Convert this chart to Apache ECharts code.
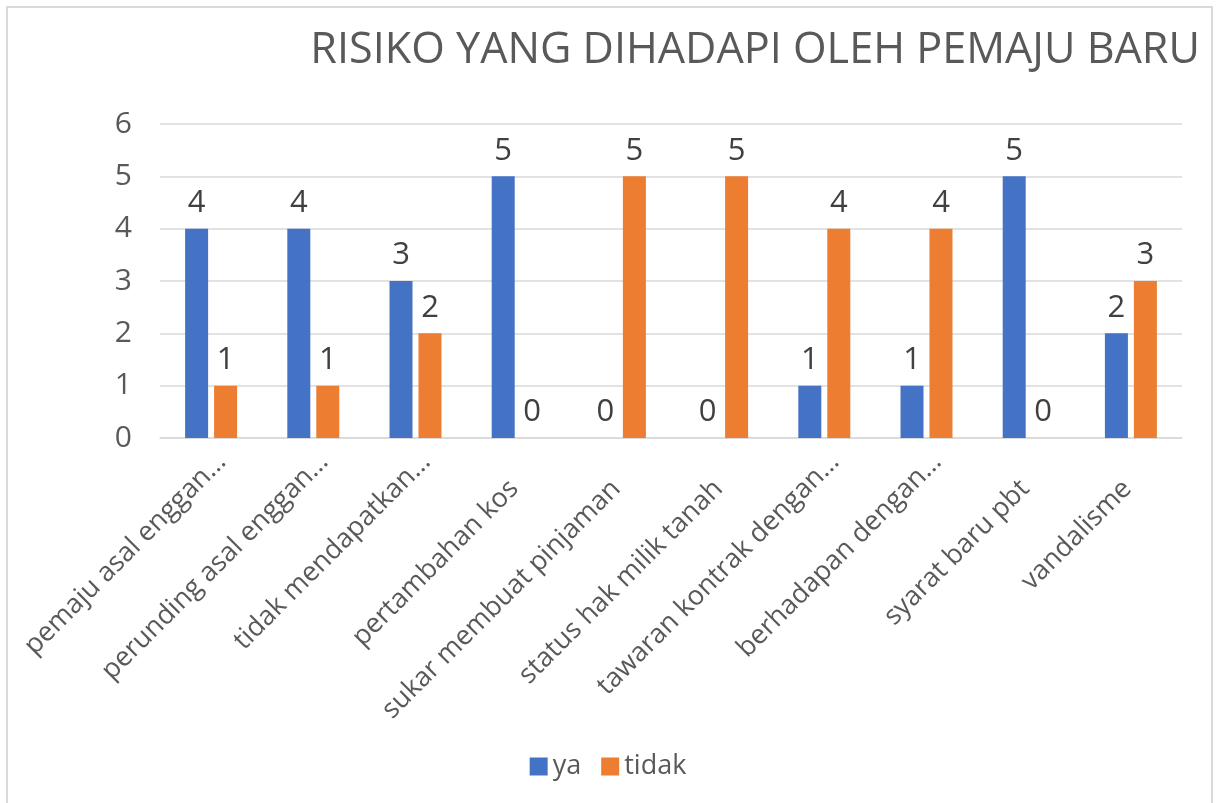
<!DOCTYPE html>
<html>
<head>
<meta charset="utf-8">
<script src="https://cdn.jsdelivr.net/npm/echarts@6/dist/echarts.min.js"></script>
<style>
  html, body { margin: 0; padding: 0; background: #fff; }
  #chart { width: 1216px; height: 803px; }
</style>
</head>
<body>
<div id="chart"></div>
<script>
// kategori risiko (label dipotong seperti dalam Excel)
var categories = [
    'pemaju asal enggan…',
    'perunding asal enggan…',
    'tidak mendapatkan…',
    'pertambahan kos',
    'sukar membuat pinjaman',
    'status hak milik tanah',
    'tawaran kontrak dengan…',
    'berhadapan dengan…',
    'syarat baru pbt',
    'vandalisme'
];
var yaValues = [4, 4, 3, 5, 0, 0, 1, 1, 5, 2];
var tidakValues = [1, 1, 2, 0, 5, 5, 4, 4, 0, 3];
var yTicks = [0, 1, 2, 3, 4, 5, 6];

var textFont = '"Open Sans", "Noto Sans", sans-serif';

var barLabel = {
    show: true,
    position: 'top',
    distance: 10,
    fontSize: 31,
    fontFamily: textFont,
    color: '#404040'
};

var catText = { fontSize: 27, fontFamily: textFont, color: '#595959' };

var option = {
    backgroundColor: '#ffffff',
    color: ['#4472C4', '#ED7D31'],
    animation: false,
    graphic: [{
        type: 'rect',
        shape: { x: 7, y: 7, width: 1205, height: 820 },
        style: { fill: 'none', stroke: '#d9d9d9', lineWidth: 2 },
        silent: true
    }],
    title: {
        text: 'RISIKO YANG DIHADAPI OLEH PEMAJU BARU',
        right: 11,
        top: 24,
        textStyle: {
            fontFamily: textFont,
            fontWeight: 'normal',
            fontSize: 43.2,
            color: '#595959'
        }
    },
    legend: {
        data: ['ya', 'tidak'],
        bottom: 18,
        left: 'center',
        itemWidth: 18,
        itemHeight: 18,
        itemGap: 20,
        icon: 'rect',
        textStyle: {
            fontSize: 27,
            fontFamily: textFont,
            color: '#595959'
        }
    },
    grid: {
        left: 160,
        right: 34,
        top: 124,
        bottom: 365,
        outerBoundsMode: 'none'
    },
    xAxis: {
        type: 'category',
        data: categories,
        axisLine: { lineStyle: { color: '#d9d9d9', width: 1.5 } },
        axisTick: { show: false },
        axisLabel: {
            rotate: 45,
            interval: 0,
            margin: 43,
            fontSize: 27,
            fontFamily: textFont,
            color: '#595959',
            // label yang dipotong duduk sedikit ke kanan, seperti Excel
            formatter: function (v) {
                return v.slice(-1) === '…' ? '{cut|' + v + '}' : '{full|' + v + '}';
            },
            rich: {
                cut: Object.assign({ padding: [0, -24, 18, 0] }, catText),
                full: Object.assign({ padding: [0, 5, 0, 0] }, catText)
            }
        }
    },
    yAxis: {
        type: 'value',
        min: yTicks[0],
        max: yTicks[yTicks.length - 1],
        interval: 1,
        axisLine: { show: false },
        axisTick: { show: false },
        splitLine: { lineStyle: { color: '#d9d9d9', width: 1.5 } },
        axisLabel: {
            margin: 28,
            fontSize: 30,
            fontFamily: textFont,
            color: '#595959'
        }
    },
    series: [{
        name: 'ya',
        type: 'bar',
        data: yaValues,
        barWidth: 23,
        barGap: '26%',
        label: barLabel
    }, {
        name: 'tidak',
        type: 'bar',
        data: tidakValues,
        barWidth: 23,
        label: barLabel
    }]
};

var myChart = echarts.init(document.getElementById('chart'));
myChart.setOption(option);
</script>
</body>
</html>
